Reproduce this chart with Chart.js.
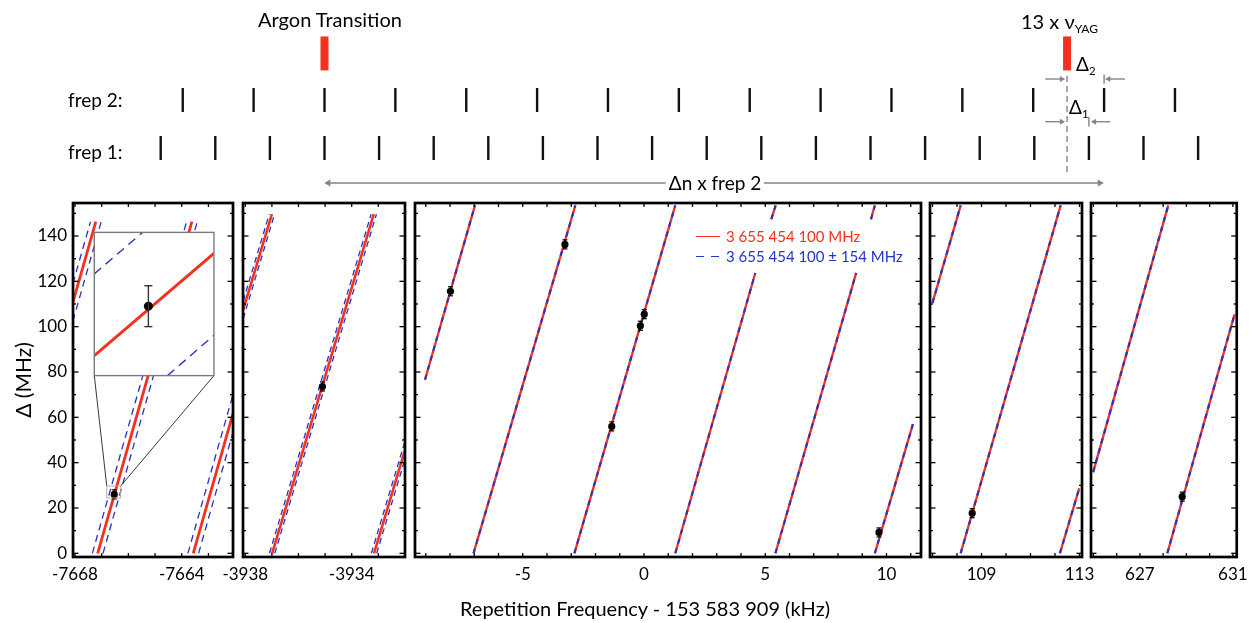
<!DOCTYPE html>
<html><head><meta charset="utf-8">
<script src="https://cdn.jsdelivr.net/npm/chart.js@4/dist/chart.umd.min.js"></script>
<style>
html,body{margin:0;padding:0;background:#fff;}
#wrap{position:relative;width:1255px;height:623px;overflow:hidden;font-family:Lato,"DejaVu Sans",sans-serif;}
#wrap canvas{position:absolute;left:0;top:0;}
.t{position:absolute;white-space:nowrap;color:#000;line-height:1;}
.t sub{font-size:0.6em;vertical-align:-0.35em;line-height:0;}
.lg{position:absolute;height:0;}
</style></head><body><div id="wrap"></div>
<script>
// ---------------- DATA ----------------
// y axis (MHz)
const yTickLabels = [0, 20, 40, 60, 80, 100, 120, 140];
const yMinorTicks = [10, 30, 50, 70, 90, 110, 130, 150];

// Panel 1 (kHz)
const p1Ticks = [-7668, -7667, -7666, -7665, -7664, -7663];
const p1TickLabels = [-7668, -7664];
const p1Red = [[-7668.08, 110.7, -7667.22, 146.3], [-7667.15, 0, -7663.62, 146.3], [-7663.57, 0, -7662.08, 61.7]];
const p1Blue = [[-7668.08, 119.0, -7667.42, 146.3], [-7668.08, 102.4, -7667.02, 146.3],
                [-7667.35, 0, -7663.82, 146.3], [-7666.95, 0, -7663.42, 146.3],
                [-7663.77, 0, -7662.08, 70.0], [-7663.37, 0, -7662.08, 53.4]];
const p1PtX = [-7666.53], p1PtY = [26.0], p1Err = [2.0];

// Panel 2
const p2Ticks = [-3938, -3937, -3936, -3935, -3934, -3933];
const p2TickLabels = [-3938, -3934];
const p2Red = [[-3938.08, 107.4, -3937.0, 149.6], [-3936.99, 0, -3933.17, 149.6], [-3933.16, 0, -3932.0, 45.4]];
const p2Blue = [[-3938.08, 111.3, -3937.10, 149.6], [-3938.08, 103.5, -3936.90, 149.6],
                [-3937.09, 0, -3933.27, 149.6], [-3936.89, 0, -3933.07, 149.6],
                [-3933.26, 0, -3932.0, 49.3], [-3933.06, 0, -3932.0, 41.4]];
const p2PtX = [-3935.1], p2PtY = [73.6], p2Err = [2.0];

// Panel 3
const p3Ticks = [-9, -8, -7, -6, -5, -4, -3, -2, -1, 0, 1, 2, 3, 4, 5, 6, 7, 8, 9, 10, 11];
const p3TickLabels = [-5, 0, 5, 10];
const p3Red = [[-9.03, 76.6, -6.97, 153.5], [-7.03, 0, -2.83, 153.5], [-2.87, 0, 1.29, 153.5],
               [1.29, 0, 4.59, 123.7], [5.25, 147.4, 5.43, 153.5], [5.42, 0, 8.75, 123.7],
               [9.36, 147.4, 9.52, 153.5], [9.52, 0, 11.09, 57.0]];
const p3Blue = [[-9.03, 76.6, -6.97, 153.5], [-7.03, 0, -2.83, 153.5], [-2.87, 0, 1.29, 153.5],
                [1.29, 0, 4.59, 123.7], [5.25, 147.4, 5.43, 153.5], [5.42, 0, 8.75, 123.7],
                [9.36, 147.4, 9.52, 153.5], [9.52, 0, 11.09, 57.0]];
const p3PtX = [-7.98, -3.26, -1.33, -0.15, 0.01, 9.69];
const p3PtY = [115.6, 136.3, 56.0, 100.4, 105.5, 9.2];
const p3Err = [2.0, 2.0, 2.0, 2.0, 2.0, 2.0];

// Panel 4
const p4Ticks = [107, 108, 109, 110, 111, 112, 113];
const p4TickLabels = [109, 113];
const p4Red = [[107.0, 110.5, 108.15, 153.5], [108.15, 0, 112.23, 153.5], [112.2, 0, 112.99, 28.7]];
const p4Blue = [[107.0, 110.5, 108.15, 153.5], [108.15, 0, 112.23, 153.5], [112.2, 0, 112.99, 28.7]];
const p4PtX = [108.62], p4PtY = [17.7], p4Err = [2.0];

// Panel 5
const p5Ticks = [625, 626, 627, 628, 629, 630, 631];
const p5TickLabels = [627, 631];
const p5Red = [[624.99, 35.8, 628.22, 153.5], [628.18, 0, 631.07, 105.4]];
const p5Blue = [[624.99, 35.8, 628.22, 153.5], [628.18, 0, 631.07, 105.4]];
const p5PtX = [628.82], p5PtY = [25.0], p5Err = [2.0];

// Inset (zoom around the panel-1 point)
const insetFrame = [-7667.277, -7662.794, 78.4, 141.6];   // in panel-1 data units
const zoomFrame = [-7666.81, -7666.29, 24.4, 29.7];      // in panel-1 data units
const insetXRange = [-7666.643, -7666.393], insetYRange = [18.97, 33.47];
const insetRed = [[-7666.643, 20.99, -7666.393, 31.34]];
const insetBlue = [[-7666.643, 29.27, -7666.542, 33.47], [-7666.49, 18.97, -7666.393, 23.06]];
const insetPtX = [-7666.53], insetPtY = [26.0], insetErr = [2.07];

// Schematic (units of frep 1 spacing, Argon transition at 0)
const frep1Teeth = [-3, -2, -1, 0, 1, 2, 3, 4, 5, 6, 7, 8, 9, 10, 11, 12, 13, 14, 15, 16];
const frep2Teeth = [-2.596, -1.298, 0, 1.298, 2.596, 3.894, 5.192, 6.49, 7.788, 9.086, 10.384, 11.682, 12.98, 14.278, 15.576];
const transitions = [0, 13.6];           // Argon transition, 13 x nu_YAG
const yagLine = 13.6;
const rows = {frep1: 1, frep2: 2, markers: 2.97, delta2: 2.437, delta1: 1.548, span: 0.27};

const legendLabels = ['3 655 454 100 MHz', '3 655 454 100 \u00b1 154 MHz'];

// ---------------- RENDER ----------------
const RED = '#f4301e', BLUE = '#2334c9', GREY = '#858585';
const FONT = 'Lato, "DejaVu Sans", sans-serif';
const W = 1255, H = 623, TOP = 203, BOTTOM = 557, XAXIS_H = 35;
const Y_MIN = -1.63, Y_MAX = 154.56;
Chart.defaults.font.family = FONT;
const wrap = document.getElementById('wrap');

function newCanvas(h) {
  const c = document.createElement('canvas');
  c.width = W; c.height = h || H;
  c.style.width = W + 'px'; c.style.height = (h || H) + 'px';
  wrap.appendChild(c);
  return c;
}
function segs(list, style) {
  return list.map(s => Object.assign({
    data: [{x: s[0], y: s[1]}, {x: s[2], y: s[3]}],
    showLine: true, pointRadius: 0, fill: false, borderCapStyle: 'butt'
  }, style));
}
function line(ctx, x1, y1, x2, y2) { ctx.beginPath(); ctx.moveTo(x1, y1); ctx.lineTo(x2, y2); ctx.stroke(); }

function errorBars(chart, xs, ys, es, cap, color, width) {
  const ctx = chart.ctx, sx = chart.scales.x, sy = chart.scales.y;
  ctx.save(); ctx.strokeStyle = color; ctx.lineWidth = width;
  xs.forEach((v, i) => {
    const px = sx.getPixelForValue(v);
    const p1 = sy.getPixelForValue(ys[i] - es[i]), p2 = sy.getPixelForValue(ys[i] + es[i]);
    line(ctx, px, p1, px, p2);
    line(ctx, px - cap, p1, px + cap, p1);
    line(ctx, px - cap, p2, px + cap, p2);
  });
  ctx.restore();
}

function makePanel(p) {
  const c = newCanvas();
  const datasets = [];
  datasets.push({data: p.ptx.map((v, i) => ({x: v, y: p.pty[i]})), showLine: false,
    pointRadius: 3.6, pointBackgroundColor: '#000', pointBorderColor: '#000', pointBorderWidth: 0, order: 1});
  segs(p.blue, {borderColor: BLUE, borderWidth: p.blueW, borderDash: p.dash, order: 2}).forEach(d => datasets.push(d));
  segs(p.red, {borderColor: RED, borderWidth: p.redW, order: 3}).forEach(d => datasets.push(d));
  const framePlugin = {
    id: 'frame',
    afterDatasetsDraw(chart) {
      const ctx = chart.ctx, a = chart.chartArea, sx = chart.scales.x, sy = chart.scales.y;
      errorBars(chart, p.ptx, p.pty, p.err, 2.5, '#000', 1.2);
      if (p.extra) p.extra(chart);
      ctx.save();
      ctx.strokeStyle = '#000'; ctx.lineWidth = 1.3;
      p.ticks.forEach(v => {
        const px = sx.getPixelForValue(v);
        line(ctx, px, a.bottom, px, a.bottom - 4);
        line(ctx, px, a.top, px, a.top + 4);
      });
      yTickLabels.forEach(v => {
        const py = sy.getPixelForValue(v);
        line(ctx, a.left, py, a.left + 5.5, py);
        line(ctx, a.right, py, a.right - 5.5, py);
      });
      yMinorTicks.forEach(v => {
        const py = sy.getPixelForValue(v);
        line(ctx, a.left, py, a.left + 3, py);
        line(ctx, a.right, py, a.right - 3, py);
      });
      ctx.lineWidth = 2.7;
      ctx.strokeRect(a.left, a.top, a.right - a.left, a.bottom - a.top);
      ctx.restore();
    }
  };
  return new Chart(c, {
    type: 'scatter',
    data: {datasets},
    options: {
      responsive: false, animation: false, devicePixelRatio: 1, events: [],
      layout: {autoPadding: false, padding: {left: p.yAxis ? 0 : p.left, right: W - p.right, top: TOP, bottom: H - BOTTOM - XAXIS_H}},
      plugins: {legend: {display: false}, tooltip: {enabled: false}},
      scales: {
        x: {
          type: 'linear', min: p.min, max: p.max,
          grid: {display: false, drawTicks: false}, border: {display: false},
          afterBuildTicks: s => { s.ticks = p.labels.map(v => ({value: v})); },
          afterFit: s => { s.height = XAXIS_H; },
          ticks: {autoSkip: false, maxRotation: 0, minRotation: 0, padding: 7, color: '#000',
                  font: {family: FONT, size: 17}, callback: v => String(v)}
        },
        y: {
          type: 'linear', min: Y_MIN, max: Y_MAX, display: !!p.yAxis,
          grid: {display: false, drawTicks: false}, border: {display: false},
          afterBuildTicks: s => { s.ticks = yTickLabels.map(v => ({value: v})); },
          afterFit: s => { if (p.yAxis) s.width = p.left; },
          ticks: {padding: 6, color: '#000', font: {family: FONT, size: 17}, callback: v => String(v)},
          title: {display: true, text: '\u0394 (MHz)', color: '#000', font: {family: FONT, size: 21}, padding: {top: 12, bottom: 0}}
        }
      }
    },
    plugins: [framePlugin]
  });
}

// ----- schematic -----
(function () {
  const c = newCanvas(200);
  const tooth = (xs, y) => ({data: xs.map(v => ({x: v, y})), showLine: false, pointStyle: 'line',
    pointRotation: 90, pointRadius: 12, pointBorderWidth: 2.4, pointBorderColor: '#111'});
  const arrow = (x1, x2, y, head) => ({data: [{x: x1, y}, {x: x2, y}], showLine: true, borderColor: GREY, borderWidth: 1.4,
    pointStyle: 'triangle', pointRadius: head.r, pointRotation: head.rot,
    pointBackgroundColor: GREY, pointBorderColor: GREY, pointBorderWidth: 0});
  const vbar = (x, y1, y2, dash) => ({data: [{x, y: y1}, {x, y: y2}], showLine: true, pointRadius: 0,
    borderColor: GREY, borderWidth: 1.4, borderDash: dash || []});
  new Chart(c, {
    type: 'scatter',
    data: {datasets: [
      tooth(frep1Teeth, rows.frep1),
      tooth(frep2Teeth, rows.frep2),
      {data: transitions.map(v => ({x: v, y: rows.markers})), showLine: false, pointStyle: 'line', pointRotation: 90,
       pointRadius: 17, pointBorderWidth: 8, pointBorderColor: RED},
      vbar(yagLine, 0.50, 2.52, [6, 4]),
      arrow(0.07, 14.2, rows.span, {r: [4, 4], rot: [-90, 90]}),
      arrow(13.2, 13.5, rows.delta2, {r: [0, 3.5], rot: [0, 90]}),
      arrow(14.66, 14.36, rows.delta2, {r: [0, 3.5], rot: [0, -90]}),
      vbar(frep2Teeth[13], 2.34, 2.53),
      arrow(13.2, 13.5, rows.delta1, {r: [0, 3.5], rot: [0, 90]}),
      arrow(14.39, 14.1, rows.delta1, {r: [0, 3.5], rot: [0, -90]}),
      vbar(frep1Teeth[17], 1.45, 1.65)
    ]},
    options: {
      responsive: false, animation: false, devicePixelRatio: 1, events: [],
      layout: {autoPadding: false, padding: 0},
      plugins: {legend: {display: false}, tooltip: {enabled: false}},
      scales: {x: {display: false, type: 'linear', min: -5.943, max: 17.042},
               y: {display: false, type: 'linear', min: -0.083, max: 4.083}}
    }
  });
})();

// ----- panels -----
const panel1 = makePanel({left: 73, right: 233, min: -7668.075, max: -7662.08, ticks: p1Ticks, labels: p1TickLabels,
  red: p1Red, blue: p1Blue, ptx: p1PtX, pty: p1PtY, err: p1Err, redW: 2.8, blueW: 1.3, dash: [7, 5], yAxis: true,
  extra(chart) {
    const ctx = chart.ctx, sx = chart.scales.x, sy = chart.scales.y;
    const ix0 = sx.getPixelForValue(insetFrame[0]), ix1 = sx.getPixelForValue(insetFrame[1]);
    const iy0 = sy.getPixelForValue(insetFrame[2]);
    const zx0 = sx.getPixelForValue(zoomFrame[0]), zx1 = sx.getPixelForValue(zoomFrame[1]);
    const zy0 = sy.getPixelForValue(zoomFrame[2]), zy1 = sy.getPixelForValue(zoomFrame[3]);
    ctx.save(); ctx.strokeStyle = '#222'; ctx.lineWidth = 0.9;
    line(ctx, ix0, iy0, zx0, zy1); line(ctx, ix1, iy0, zx1, zy1);
    ctx.strokeStyle = '#aaa'; ctx.strokeRect(zx0, zy1, zx1 - zx0, zy0 - zy1);
    ctx.restore();
  }});
makePanel({left: 243, right: 405, min: -3938.086, max: -3931.996, ticks: p2Ticks, labels: p2TickLabels,
  red: p2Red, blue: p2Blue, ptx: p2PtX, pty: p2PtY, err: p2Err, redW: 2.6, blueW: 1.3, dash: [6, 4]});
makePanel({left: 415, right: 921, min: -9.443, max: 11.423, ticks: p3Ticks, labels: p3TickLabels,
  red: p3Red, blue: p3Blue, ptx: p3PtX, pty: p3PtY, err: p3Err, redW: 2.3, blueW: 2.0, dash: [5, 5]});
makePanel({left: 930, right: 1082, min: 106.898, max: 113.102, ticks: p4Ticks, labels: p4TickLabels,
  red: p4Red, blue: p4Blue, ptx: p4PtX, pty: p4PtY, err: p4Err, redW: 2.3, blueW: 2.1, dash: [5, 5]});
makePanel({left: 1091, right: 1243, min: 624.897, max: 631.165, ticks: p5Ticks, labels: p5TickLabels,
  red: p5Red, blue: p5Blue, ptx: p5PtX, pty: p5PtY, err: p5Err, redW: 2.3, blueW: 2.1, dash: [5, 5]});

// ----- inset -----
(function () {
  const sx = panel1.scales.x, sy = panel1.scales.y;
  const L = sx.getPixelForValue(insetFrame[0]), R = sx.getPixelForValue(insetFrame[1]);
  const T = sy.getPixelForValue(insetFrame[3]), B = sy.getPixelForValue(insetFrame[2]);
  const c = newCanvas();
  const ds = [{data: insetPtX.map((v, i) => ({x: v, y: insetPtY[i]})), showLine: false, pointRadius: 4.5,
    pointBackgroundColor: '#000', pointBorderWidth: 0, order: 1}];
  segs(insetBlue, {borderColor: BLUE, borderWidth: 1.4, borderDash: [9, 6], order: 2}).forEach(d => ds.push(d));
  segs(insetRed, {borderColor: RED, borderWidth: 3, order: 3}).forEach(d => ds.push(d));
  new Chart(c, {
    type: 'scatter', data: {datasets: ds},
    options: {
      responsive: false, animation: false, devicePixelRatio: 1, events: [],
      layout: {autoPadding: false, padding: {left: L, right: W - R, top: T, bottom: H - B}},
      plugins: {legend: {display: false}, tooltip: {enabled: false}},
      scales: {x: {display: false, type: 'linear', min: insetXRange[0], max: insetXRange[1]},
               y: {display: false, type: 'linear', min: insetYRange[0], max: insetYRange[1]}}
    },
    plugins: [{
      id: 'insetBg',
      beforeDatasetsDraw(chart) {
        const a = chart.chartArea, ctx = chart.ctx;
        ctx.save(); ctx.fillStyle = '#fff'; ctx.fillRect(a.left, a.top, a.right - a.left, a.bottom - a.top); ctx.restore();
      },
      afterDatasetsDraw(chart) {
        errorBars(chart, insetPtX, insetPtY, insetErr, 4, '#333', 1.4);
        const a = chart.chartArea, ctx = chart.ctx;
        ctx.save(); ctx.strokeStyle = '#7a7a7a'; ctx.lineWidth = 1.4;
        ctx.strokeRect(a.left, a.top, a.right - a.left, a.bottom - a.top); ctx.restore();
      }
    }]
  });
})();

// ----- text annotations & legend -----
function txt(html, css) {
  const d = document.createElement('div'); d.className = 't'; d.innerHTML = html;
  Object.assign(d.style, css); wrap.appendChild(d); return d;
}
txt('Argon Transition', {left: '258px', top: '9px', fontSize: '20px'});
txt('13 x \u03bd<sub>YAG</sub>', {left: '1021px', top: '11px', fontSize: '20px'});
txt('\u0394<sub>2</sub>', {left: '1076px', top: '54px', fontSize: '19px'});
txt('\u0394<sub>1</sub>', {left: '1069px', top: '97px', fontSize: '19px'});
txt('frep 2:', {left: '68px', top: '90px', fontSize: '19px'});
txt('frep 1:', {left: '68px', top: '142px', fontSize: '19px'});
txt('\u0394n x frep 2', {left: '715px', top: '173px', fontSize: '19px', transform: 'translateX(-50%)', background: '#fff', padding: '0 3px'});
txt('Repetition Frequency - 153 583 909 (kHz)', {left: '645px', top: '598px', fontSize: '20px', transform: 'translateX(-50%)'});
txt(legendLabels[0], {left: '726px', top: '229px', fontSize: '15px', color: RED});
txt(legendLabels[1], {left: '726px', top: '249px', fontSize: '15px', color: BLUE});
function lg(left, top, width, color) {
  const d = document.createElement('div'); d.className = 'lg';
  Object.assign(d.style, {left: left + 'px', top: top + 'px', width: width + 'px', borderTop: '1.5px solid ' + color});
  wrap.appendChild(d);
}
lg(696, 236, 24, RED);
lg(696, 256, 8, BLUE); lg(711, 256, 8, BLUE);
</script>
</body></html>
